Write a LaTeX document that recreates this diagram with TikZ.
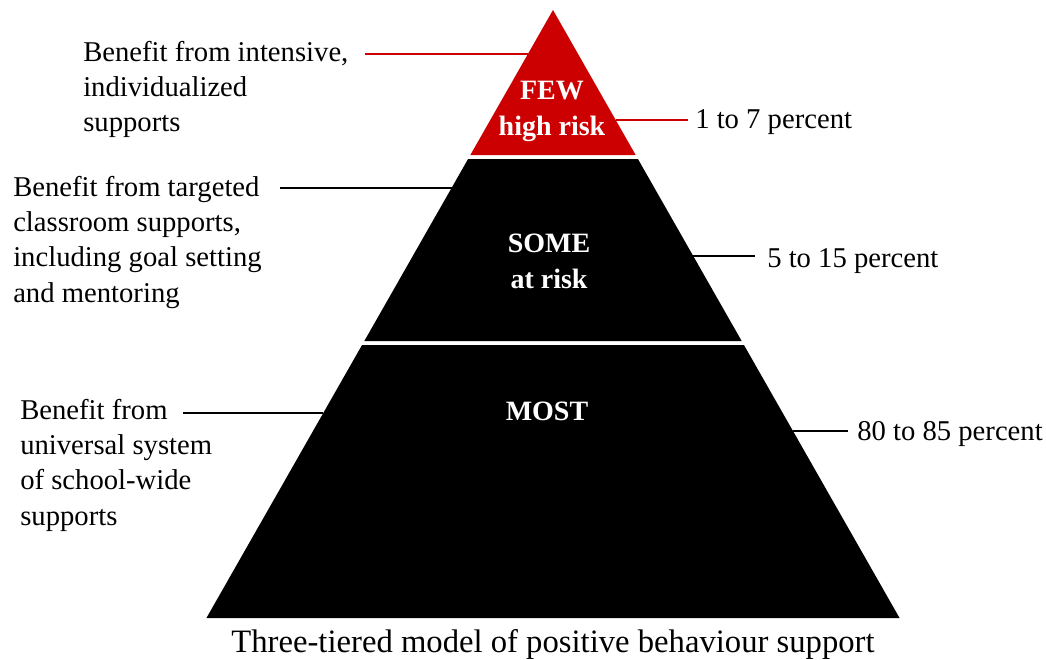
\documentclass[tikz,border=0pt]{standalone}
\usepackage{fontspec}
\setmainfont{Liberation Serif}
\definecolor{tiptop}{RGB}{204,0,0}
\begin{document}
\begin{tikzpicture}[x=0.75pt,y=-0.75pt,
  lbl/.style={inner sep=0pt,align=left,anchor=base west,font=\fontsize{21.5}{26.4}\selectfont},
  pct/.style={inner sep=0pt,anchor=base west,font=\fontsize{21.5}{26.4}\selectfont},
  tier/.style={inner sep=0pt,align=center,anchor=base,text=white,font=\fontsize{21}{27}\selectfont\bfseries},
  lead/.style={line width=1.6pt},
  redlead/.style={line width=1.6pt,draw=tiptop}]
\useasboundingbox[fill=white] (0,0) rectangle (1046,660);
% pyramid tiers
\fill[tiptop] (553,10) -- (635.65,155) -- (470.35,155) -- cycle;
\fill[black] (468.07,159) -- (637.93,159) -- (741.67,341) -- (364.33,341) -- cycle;
\fill[black] (362.05,345) -- (743.95,345) -- (899.56,618) -- (206.44,618) -- cycle;
% tier labels (anchor = baseline of last line)
\node[tier] (few) at (552,135) {FEW\\high risk};
\node[tier] (some) at (549,288) {SOME\\at risk};
\node[tier] (most) at (547,420) {MOST};
% left labels (anchor = baseline of last line)
\node[lbl] (l1) at (83,132) {Benefit from intensive,\\individualized\\supports};
\node[lbl] (l2) at (13,302) {Benefit from targeted\\classroom supports,\\including goal setting\\and mentoring};
\node[lbl] (l3) at (20,525) {Benefit from\\universal system\\of school-wide\\supports};
% right labels
\node[pct] (r1) at (695,128) {1 to 7 percent};
\node[pct] (r2) at (767,267) {5 to 15 percent};
\node[pct] (r3) at (857,440) {80 to 85 percent};
% caption
\node[inner sep=0pt,anchor=base,font=\fontsize{24.5}{28}\selectfont] (cap) at (553,652) {Three-tiered model of positive behaviour support};
% connector ends
\coordinate (l1a) at (365,54);  \coordinate (l1b) at (528,54);
\coordinate (l2a) at (280,188); \coordinate (l2b) at (451.5,188);
\coordinate (l3a) at (183,413); \coordinate (l3b) at (323.3,413);
\coordinate (r1a) at (615.7,120); \coordinate (r1b) at (688,120);
\coordinate (r2a) at (693.2,256); \coordinate (r2b) at (755,256);
\coordinate (r3a) at (793,431); \coordinate (r3b) at (848,431);
\draw[redlead] (l1a) -- (l1b);
\draw[lead] (l2a) -- (l2b);
\draw[lead] (l3a) -- (l3b);
\draw[redlead] (r1a) -- (r1b);
\draw[lead] (r2a) -- (r2b);
\draw[lead] (r3a) -- (r3b);
\end{tikzpicture}
\end{document}
